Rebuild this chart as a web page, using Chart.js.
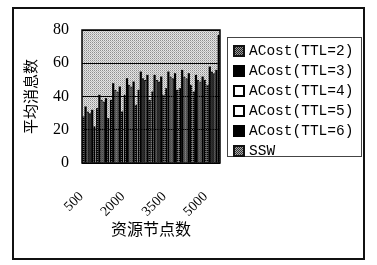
<!DOCTYPE html>
<html>
<head>
<meta charset="utf-8">
<script src="https://cdn.jsdelivr.net/npm/chart.js@4/dist/chart.umd.min.js"></script>
<style>
  body { margin: 0; background: #fff; }
  #wrap { position: relative; width: 377px; height: 265px; }
  #legend {
    position: absolute; left: 227px; top: 37px; width: 135px; height: 120px;
    border: 1px solid #444; box-sizing: border-box; padding-top: 3px;
    font-family: "Liberation Mono", monospace; font-size: 14.5px; color: #000;
  }
  .item { height: 20px; display: flex; align-items: center; }
  .box { width: 12px; height: 12px; box-sizing: border-box; margin: 0 4px 0 5px; }
</style>
</head>
<body>
<div id="wrap">
  <canvas id="chart" width="377" height="265"></canvas>
  <div id="legend"></div>
</div>
<script>
// data
const categories = ['500', '1000', '1500', '2000', '2500', '3000', '3500', '4000', '4500', '5000']
const seriesNames = ['ACost(TTL=2)', 'ACost(TTL=3)', 'ACost(TTL=4)', 'ACost(TTL=5)', 'ACost(TTL=6)', 'SSW']
const ttl2 = [28, 33, 38, 41, 44, 43, 45, 45, 43, 47]
const ttl3 = [34, 41, 48, 51, 55, 53, 55, 56, 53, 58]
const ttl4 = [31, 38, 44, 47, 51, 50, 52, 52, 50, 55]
const ttl5 = [30, 37, 43, 46, 50, 49, 51, 51, 49, 54]
const ttl6 = [32, 39, 46, 49, 53, 52, 54, 54, 52, 56]
const ssw = [22, 27, 31, 35, 38, 41, 44, 47, 50, 77]
const yTicks = [0, 20, 40, 60, 80]

function makePattern(colors) {
  // 2x2 dotted fill like the printed screen tone
  let c = document.createElement('canvas')
  c.width = 2; c.height = 2
  let g = c.getContext('2d')
  colors.forEach(function(col, i){
    g.fillStyle = col
    g.fillRect(i % 2, Math.floor(i / 2), 1, 1)
  })
  return g.createPattern(c, 'repeat')
}

const plotTone = makePattern(['#8e8e8e', '#e8e8e8', '#e0e0e0', '#b8b8b8'])
const darkTone = makePattern(['#000', '#000', '#000', '#666'])

const fills = [darkTone, '#000', '#f4f4f4', '#f4f4f4', '#000', darkTone]
const legendBoxes = [
  'border:2px solid #111;background:repeating-conic-gradient(#999 0 25%,#222 0 50%) 0 0/2px 2px',
  'background:#000',
  'border:2px solid #000;background:#fff',
  'border:2px solid #000;background:#fff',
  'background:#000',
  'border:2px solid #111;background:repeating-conic-gradient(#aaa 0 25%,#333 0 50%) 0 0/2px 2px'
]

const plotBack = {
  id: 'plotBack',
  beforeDraw(chart) {
    let a = chart.chartArea, ctx = chart.ctx
    ctx.save()
    ctx.fillStyle = plotTone
    ctx.fillRect(a.left, a.top, a.right - a.left, a.bottom - a.top)
    ctx.restore()
  },
  afterDraw(chart) {
    let a = chart.chartArea, ctx = chart.ctx
    ctx.save()
    ctx.strokeStyle = '#000'
    ctx.lineWidth = 1.5
    ctx.strokeRect(a.left, a.top, a.right - a.left, a.bottom - a.top)
    // outer frame
    ctx.lineWidth = 2
    ctx.strokeStyle = '#111'
    ctx.strokeRect(13, 8, 351, 251)
    ctx.restore()
  }
}

let allValues = [ttl2, ttl3, ttl4, ttl5, ttl6, ssw]
let datasets = allValues.map(function(vals, i){
  return {
    label: seriesNames[i],
    data: vals,
    backgroundColor: fills[i],
    borderColor: '#000',
    borderWidth: (i === 2 || i === 3) ? 1 : 0,
    categoryPercentage: 0.96,
    barPercentage: 1
  }
})

new Chart(document.getElementById('chart'), {
  type: 'bar',
  data: { labels: categories, datasets: datasets },
  options: {
    responsive: false,
    animation: false,
    layout: { padding: { left: 0, right: 157, top: 30, bottom: 0 } },
    plugins: { legend: { display: false }, tooltip: { enabled: false } },
    scales: {
      x: {
        grid: { display: false },
        border: { display: false },
        ticks: {
          autoSkip: false,
          minRotation: 45, maxRotation: 45,
          padding: 10,
          color: '#000',
          font: { family: 'Liberation Serif', size: 14 },
          callback: function(v, i){ return i % 3 === 0 ? categories[i] + '   ' : '' }
        },
        title: {
          display: true, text: '资源节点数', color: '#000',
          font: { family: 'Noto Sans CJK SC', size: 16 },
          padding: { bottom: 26, top: 0 }
        },
        afterFit: function(s){ s.height = 102 }
      },
      y: {
        min: 0, max: 80,
        afterBuildTicks: function(s){ s.ticks = yTicks.map(function(v){ return { value: v } }) },
        grid: { color: '#000', lineWidth: 1, drawTicks: false },
        border: { display: false },
        ticks: {
          padding: 13, color: '#000',
          font: { family: 'Liberation Serif', size: 16 }
        },
        title: {
          display: true, text: '平均消息数', color: '#000',
          font: { family: 'Noto Sans CJK SC', size: 15 },
          padding: { top: 21, bottom: 0 }
        },
        afterFit: function(s){ s.width = 82 }
      }
    }
  },
  plugins: [plotBack]
})

// legend built from the same series names
let lg = document.getElementById('legend')
seriesNames.forEach(function(name, i){
  let row = document.createElement('div')
  row.className = 'item'
  row.innerHTML = '<span class="box" style="' + legendBoxes[i] + '"></span><span>' + name + '</span>'
  lg.appendChild(row)
})
</script>
</body>
</html>
